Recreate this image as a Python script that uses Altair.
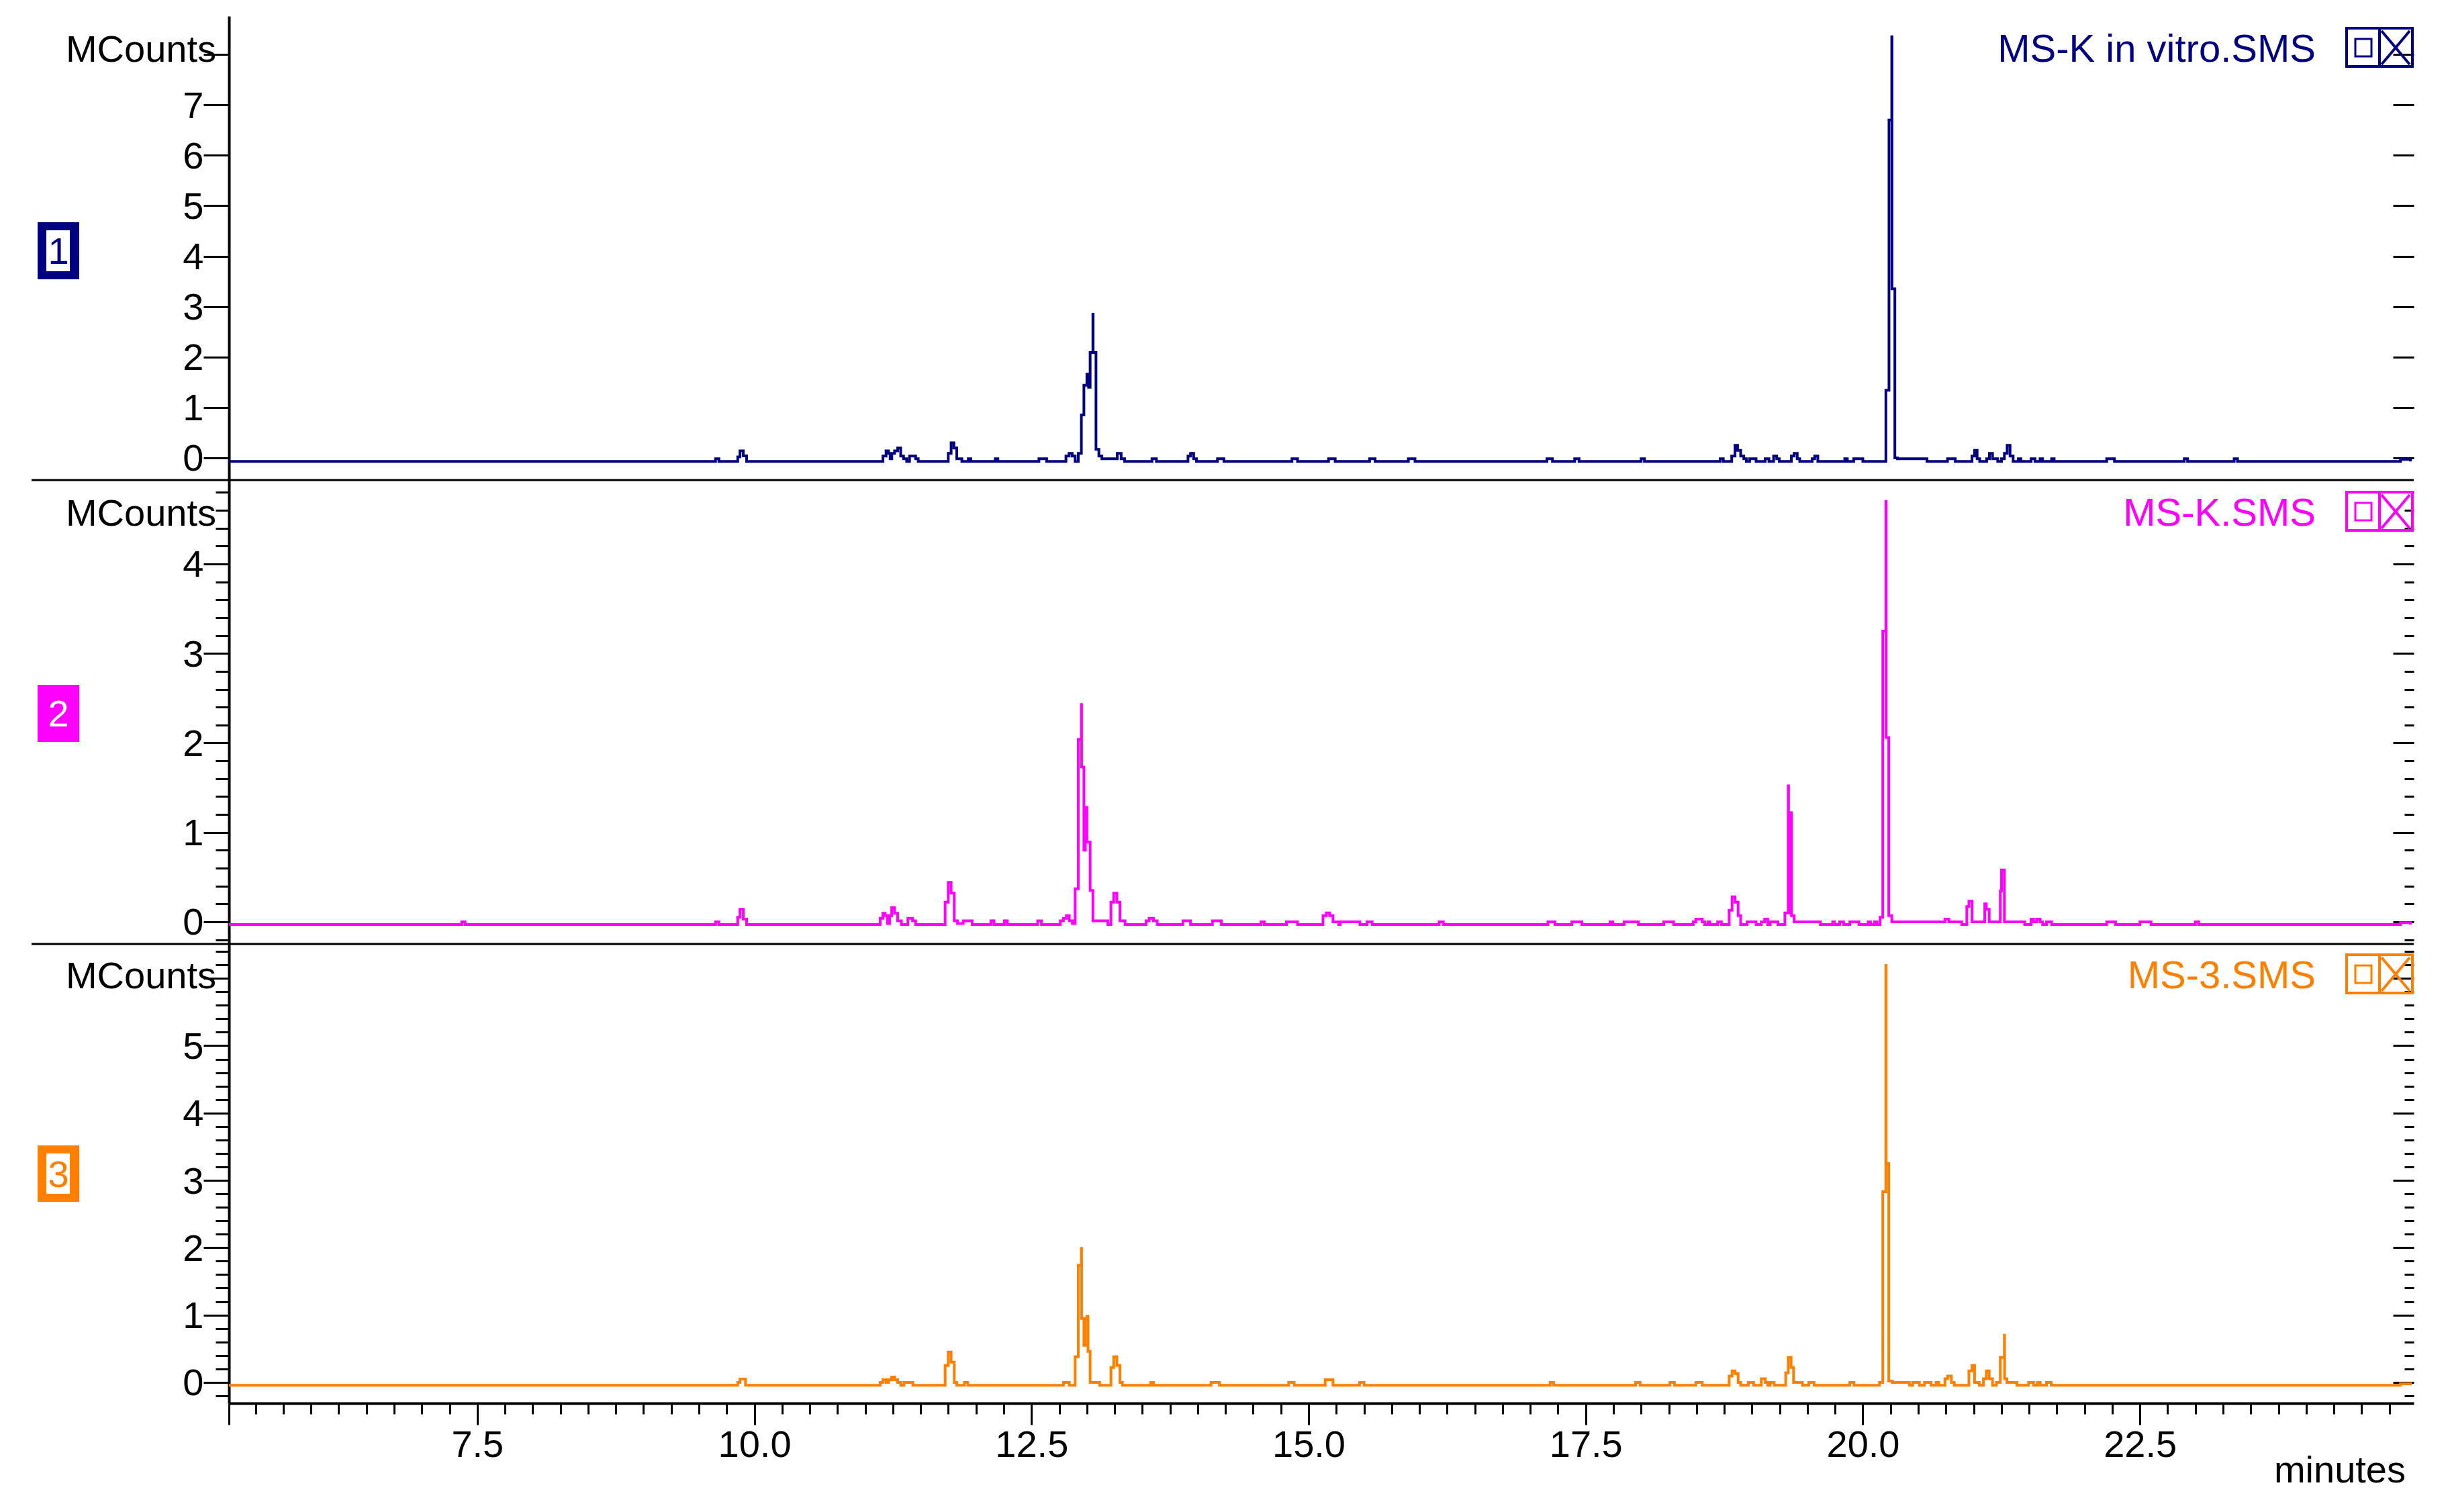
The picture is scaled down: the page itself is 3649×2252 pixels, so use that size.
import altair as alt
import pandas as pd

FONT = "Liberation Sans"
NAVY, MAGENTA, ORANGE = "#000080", "#FF00FF", "#FF8000"
PW, PH = 3254, 2066
X_DOMAIN = [5.26, 24.97]

x_major = [7.5, 10.0, 12.5, 15.0, 17.5, 20.0, 22.5]
x_corner = [5.26]
x_minor = [5.5, 5.75, 6.0, 6.25, 6.5, 6.75, 7.0, 7.25, 7.75, 8.0, 8.25, 8.5, 8.75, 9.0, 9.25, 9.5, 9.75,
           10.25, 10.5, 10.75, 11.0, 11.25, 11.5, 11.75, 12.0, 12.25, 12.75, 13.0, 13.25, 13.5, 13.75,
           14.0, 14.25, 14.5, 14.75, 15.25, 15.5, 15.75, 16.0, 16.25, 16.5, 16.75, 17.0, 17.25, 17.75,
           18.0, 18.25, 18.5, 18.75, 19.0, 19.25, 19.5, 19.75, 20.25, 20.5, 20.75, 21.0, 21.25, 21.5,
           21.75, 22.0, 22.25, 22.75, 23.0, 23.25, 23.5, 23.75, 24.0, 24.25, 24.5, 24.75]

b1, a1 = -0.07, -0.017
trace_1 = [(5.26, b1), (9.65, a1), (9.68, b1), (9.85, 0.02), (9.87, 0.14), (9.9, 0.04), (9.93, b1),
    (11.16, 0.036), (11.188, 0.14), (11.21, 0.09), (11.225, a1), (11.24, 0.09), (11.265, 0.14), (11.293, 0.196),
    (11.32, 0.036), (11.346, a1), (11.374, b1), (11.4, 0.036), (11.455, a1), (11.478, b1),
    (11.749, 0.09), (11.775, 0.3), (11.8, 0.196), (11.826, a1), (11.872, b1), (11.93, a1), (11.953, b1),
    (12.173, a1), (12.197, b1), (12.567, a1), (12.637, b1), (12.811, 0.036), (12.839, 0.09), (12.867, 0.036), (12.894, b1),
    (12.922, 0.09), (12.95, 0.85), (12.973, 1.44), (13.0, 1.66), (13.015, 1.4), (13.029, 2.09), (13.054, 2.85), (13.056, 2.09),
    (13.082, 0.17), (13.108, 0.036), (13.135, a1), (13.274, 0.09), (13.309, a1), (13.34, b1),
    (13.587, a1), (13.627, b1), (13.912, 0.036), (13.935, 0.09), (13.963, a1), (13.988, b1), (14.178, a1), (14.236, b1),
    (14.85, a1), (14.9, b1), (15.18, a1), (15.24, b1), (15.55, a1), (15.6, b1), (15.9, a1), (15.96, b1),
    (17.15, a1), (17.2, b1), (17.4, a1), (17.44, b1), (18.0, a1), (18.03, b1),
    (18.713, a1), (18.741, b1), (18.817, 0.035), (18.847, 0.25), (18.87, 0.15), (18.898, 0.035), (18.926, a1), (18.949, b1),
    (18.979, a1), (19.037, b1), (19.119, a1), (19.153, b1), (19.195, 0.035), (19.223, a1), (19.246, b1),
    (19.355, 0.035), (19.38, 0.09), (19.408, a1), (19.431, b1), (19.543, a1), (19.566, 0.035), (19.594, b1),
    (19.837, a1), (19.86, b1), (19.918, a1), (20.0, b1), (20.208, 1.34), (20.236, 6.7), (20.261, 8.35), (20.263, 3.35),
    (20.289, 0.0), (20.312, a1), (20.579, b1), (20.764, a1), (20.834, b1), (20.985, 0.035), (21.008, 0.15), (21.031, a1), (21.054, b1),
    (21.117, a1), (21.142, 0.09), (21.17, a1), (21.217, b1), (21.251, a1), (21.277, 0.09), (21.302, 0.25), (21.328, 0.035), (21.356, b1),
    (21.402, a1), (21.425, b1), (21.518, a1), (21.553, b1), (21.599, a1), (21.622, b1), (21.703, a1), (21.726, b1),
    (22.2, a1), (22.27, b1), (22.9, a1), (22.93, b1), (23.35, a1), (23.38, b1), (24.85, -0.03), (24.94, b1)]

b2, a2 = -0.03, 0.0
trace_2 = [(5.26, b2), (7.36, a2), (7.39, b2), (9.65, a2), (9.68, b2), (9.85, 0.05), (9.87, 0.14), (9.9, 0.03), (9.93, b2),
    (11.135, 0.04), (11.16, 0.096), (11.18, 0.07), (11.2, -0.02), (11.22, 0.07), (11.239, 0.16), (11.265, 0.096), (11.293, 0.01), (11.327, b2),
    (11.385, 0.04), (11.427, 0.01), (11.455, b2), (11.721, 0.22), (11.749, 0.44), (11.775, 0.32), (11.803, 0.01), (11.833, -0.02),
    (11.884, 0.01), (11.965, b2), (12.134, 0.01), (12.162, b2), (12.255, 0.01), (12.282, b2), (12.556, 0.01), (12.59, b2),
    (12.76, 0.01), (12.788, 0.04), (12.815, 0.07), (12.841, 0.01), (12.869, -0.02), (12.894, 0.37), (12.922, 2.04), (12.95, 2.43), (12.952, 1.73),
    (12.973, 0.8), (12.986, 1.28), (13.0, 0.89), (13.029, 0.35), (13.054, 0.01), (13.189, b2), (13.217, 0.22), (13.242, 0.32),
    (13.27, 0.22), (13.298, 0.01), (13.344, b2), (13.534, 0.01), (13.562, 0.04), (13.6, 0.01), (13.634, b2), (13.866, 0.01), (13.935, b2),
    (14.132, 0.01), (14.213, b2), (14.571, a2), (14.6, b2), (14.8, a2), (14.9, b2), (15.13, 0.07), (15.16, 0.1), (15.19, 0.07), (15.22, a2), (15.272, b2),
    (15.285, a2), (15.463, b2), (15.527, a2), (15.573, b2), (16.177, a2), (16.215, b2), (17.159, a2), (17.222, b2), (17.375, a2), (17.465, b2),
    (17.72, a2), (17.745, b2), (17.847, a2), (17.975, b2), (18.204, a2), (18.293, b2), (18.47, a2), (18.493, 0.03), (18.551, a2), (18.574, b2),
    (18.604, a2), (18.62, b2), (18.69, a2), (18.724, b2), (18.794, 0.13), (18.82, 0.28), (18.847, 0.22), (18.875, 0.07), (18.898, b2),
    (18.956, a2), (19.037, b2), (19.084, a2), (19.114, 0.03), (19.142, b2), (19.165, a2), (19.234, b2), (19.297, 0.1), (19.327, 1.52), (19.33, 0.1),
    (19.353, 1.22), (19.356, 0.07), (19.38, a2), (19.617, b2), (19.728, a2), (19.744, b2), (19.791, a2), (19.826, b2), (19.883, a2), (19.965, b2),
    (20.048, a2), (20.069, b2), (20.104, a2), (20.127, b2), (20.155, 0.05), (20.18, 3.25), (20.208, 4.7), (20.21, 2.06), (20.234, 0.07), (20.261, a2),
    (20.741, 0.03), (20.776, a2), (20.892, b2), (20.938, 0.17), (20.957, 0.23), (20.985, a2), (21.1, 0.2), (21.114, 0.14), (21.14, a2),
    (21.24, 0.345), (21.251, 0.58), (21.277, a2), (21.46, b2), (21.518, 0.03), (21.54, a2), (21.569, 0.03), (21.599, a2), (21.622, b2),
    (21.657, a2), (21.703, b2), (22.2, a2), (22.28, b2), (22.5, a2), (22.6, b2), (23.0, a2), (23.03, b2), (24.85, -0.01), (24.94, b2)]

b3, a3 = -0.043, 0.0
trace_3 = [(5.26, b3), (9.85, 0.0), (9.87, 0.05), (9.92, b3), (11.135, a3), (11.16, 0.04), (11.188, a3), (11.21, 0.04), (11.239, 0.08), (11.265, 0.04),
    (11.293, a3), (11.32, b3), (11.35, a3), (11.43, b3), (11.721, 0.25), (11.749, 0.45), (11.775, 0.3), (11.803, a3), (11.826, b3), (11.895, a3), (11.925, b3),
    (12.788, a3), (12.841, b3), (12.894, 0.38), (12.922, 1.74), (12.95, 1.99), (12.952, 0.95), (12.973, 0.55), (12.985, 0.95), (13.0, 0.98), (13.01, 0.46),
    (13.029, 0.0), (13.115, b3), (13.217, 0.22), (13.242, 0.38), (13.27, 0.25), (13.298, a3), (13.32, b3), (13.575, a3), (13.6, b3), (14.12, a3), (14.195, b3),
    (14.82, a3), (14.87, b3), (15.15, 0.04), (15.22, b3), (15.46, a3), (15.5, b3), (17.18, a3), (17.21, b3), (17.95, a3), (17.99, b3), (18.26, a3), (18.3, b3),
    (18.493, a3), (18.551, b3), (18.794, 0.095), (18.82, 0.17), (18.847, 0.13), (18.875, a3), (18.898, b3), (18.967, a3), (19.015, b3), (19.084, 0.055),
    (19.12, a3), (19.142, b3), (19.165, a3), (19.2, b3), (19.304, 0.14), (19.327, 0.37), (19.353, 0.22), (19.375, a3), (19.455, b3), (19.513, a3), (19.56, b3),
    (19.883, a3), (19.92, b3), (20.15, a3), (20.18, 2.83), (20.208, 6.19), (20.21, 3.25), (20.234, 0.02), (20.267, a3), (20.42, b3), (20.45, a3), (20.51, b3),
    (20.556, a3), (20.615, b3), (20.66, a3), (20.685, b3), (20.741, 0.055), (20.765, 0.095), (20.799, a3), (20.825, b3), (20.957, 0.17), (20.985, 0.25), (21.008, a3),
    (21.05, b3), (21.088, 0.055), (21.114, 0.17), (21.14, 0.055), (21.17, b3), (21.205, a3), (21.24, 0.37), (21.277, 0.7), (21.279, 0.055), (21.3, a3), (21.39, b3),
    (21.495, a3), (21.54, b3), (21.575, a3), (21.6, b3), (21.657, a3), (21.7, b3), (24.85, -0.02), (24.94, b3)]

panels = [
    dict(trace=trace_1, color=NAVY, name="MS-K in vitro.SMS", badge="1", badge_fill="white", badge_text=NAVY,
         domain=[-0.44, 8.76], range=[691, 0], major=[0, 1, 2, 3, 4, 5, 6, 7, 8], hide=8, minor=[],
         text_y=68, icon_top=16, badge_top=307, badge_h=85, has_inner=True),
    dict(trace=trace_2, color=MAGENTA, name="MS-K.SMS", badge="2", badge_fill=MAGENTA, badge_text="white",
         domain=[-0.248, 4.938], range=[1382, 691], major=[0, 1, 2, 3, 4], hide=9,
         minor=[-0.2, 0.2, 0.4, 0.6, 0.8, 1.2, 1.4, 1.6, 1.8, 2.2, 2.4, 2.6, 2.8, 3.2, 3.4, 3.6, 3.8, 4.2, 4.4, 4.6, 4.8],
         text_y=759, icon_top=707, badge_top=996, badge_h=85, has_inner=False),
    dict(trace=trace_3, color=ORANGE, name="MS-3.SMS", badge="3", badge_fill="white", badge_text=ORANGE,
         domain=[-0.31, 6.51], range=[2066, 1382], major=[0, 1, 2, 3, 4, 5, 6], hide=6,
         minor=[-0.2, 0.2, 0.4, 0.6, 0.8, 1.2, 1.4, 1.6, 1.8, 2.2, 2.4, 2.6, 2.8, 3.2, 3.4, 3.6, 3.8, 4.2, 4.4, 4.6, 4.8,
                5.2, 5.4, 5.6, 5.8, 6.2, 6.4],
         text_y=1448, icon_top=1396, badge_top=1682, badge_h=84, has_inner=True),
]

xscale = alt.Scale(domain=X_DOMAIN, nice=False, zero=False)
one = alt.Data(values=[{"a": 1}])
layers = []


def y_axis_layer(values, scale, **axis_kw):
    df = pd.DataFrame({"v": values})
    return alt.Chart(df).mark_point(opacity=0).encode(
        y=alt.Y("v:Q", scale=scale, axis=alt.Axis(values=values, title=None, grid=False, tickColor="black",
                                                  **axis_kw)))


for p in panels:
    yscale = alt.Scale(domain=p["domain"], range=p["range"], nice=False, zero=False)
    hide = p["hide"]
    layers.append(y_axis_layer(p["major"], yscale, orient="left", tickSize=38, tickWidth=3, domain=True,
                               domainColor="black", domainWidth=4, labelFont=FONT, labelFontSize=56,
                               labelColor="black", labelPadding=0, labelOverlap=False, format="d", labelOffset=2,
                               labelExpr=f"datum.value == {hide} ? '' : datum.label"))
    layers.append(y_axis_layer(p["major"], yscale, orient="left", offset=-PW, tickSize=31, tickWidth=3,
                               domain=False, labels=False))
    if p["minor"]:
        layers.append(y_axis_layer(p["minor"], yscale, orient="left", tickSize=20, tickWidth=3, domain=False,
                                   labels=False))
        layers.append(y_axis_layer(p["minor"], yscale, orient="left", offset=-PW, tickSize=14, tickWidth=3,
                                   domain=False, labels=False))
    df = pd.DataFrame(p["trace"], columns=["t", "v"])
    layers.append(alt.Chart(df).mark_line(interpolate="step-after", strokeWidth=4, color=p["color"],
                                          strokeCap="butt", strokeJoin="miter").encode(
        x=alt.X("t:Q", scale=xscale, axis=None),
        y=alt.Y("v:Q", scale=yscale, axis=None)))

    # header text
    layers.append(alt.Chart(one).mark_text(text="MCounts", font=FONT, fontSize=56, align="right",
                                           baseline="alphabetic", color="black").encode(
        x=alt.value(-19), y=alt.value(p["text_y"])))
    layers.append(alt.Chart(one).mark_text(text=p["name"], font=FONT, fontSize=58, align="right",
                                           baseline="alphabetic", color=p["color"]).encode(
        x=alt.value(3108), y=alt.value(p["text_y"])))

    # badge
    bt, bh = p["badge_top"], p["badge_h"]
    layers.append(alt.Chart(one).mark_rect(fill=p["color"]).encode(
        x=alt.value(-285), x2=alt.value(-223), y=alt.value(bt), y2=alt.value(bt + bh)))
    if p["has_inner"]:
        layers.append(alt.Chart(one).mark_rect(fill=p["badge_fill"]).encode(
            x=alt.value(-272), x2=alt.value(-237), y=alt.value(bt + 12), y2=alt.value(bt + bh - 12)))
    layers.append(alt.Chart(one).mark_text(text=p["badge"], font=FONT, fontSize=56, align="center",
                                           baseline="alphabetic", color=p["badge_text"]).encode(
        x=alt.value(-254), y=alt.value(bt + 62)))

    # icons
    it = p["icon_top"]
    c = p["color"]
    layers.append(alt.Chart(one).mark_rect(fillOpacity=0, stroke=c, strokeWidth=4).encode(
        x=alt.value(3154), x2=alt.value(3252), y=alt.value(it + 2), y2=alt.value(it + 59)))
    layers.append(alt.Chart(one).mark_rect(fillOpacity=0, stroke=c, strokeWidth=3).encode(
        x=alt.value(3167), x2=alt.value(3191), y=alt.value(it + 18), y2=alt.value(it + 44)))
    layers.append(alt.Chart(one).mark_rect(fillOpacity=0, stroke=c, strokeWidth=4).encode(
        x=alt.value(3203), x2=alt.value(3252), y=alt.value(it + 2), y2=alt.value(it + 59)))
    layers.append(alt.Chart(one).mark_rule(color=c, strokeWidth=4).encode(
        x=alt.value(3206), x2=alt.value(3248), y=alt.value(it + 6), y2=alt.value(it + 56)))
    layers.append(alt.Chart(one).mark_rule(color=c, strokeWidth=4).encode(
        x=alt.value(3248), x2=alt.value(3206), y=alt.value(it + 6), y2=alt.value(it + 56)))

# panel separators
for sep_y in [691, 1382]:
    layers.append(alt.Chart(one).mark_rule(color="black", strokeWidth=3).encode(
        x=alt.value(-294), x2=alt.value(PW), y=alt.value(sep_y)))

# x axes
layers.append(alt.Chart(pd.DataFrame({"t": x_major})).mark_point(opacity=0).encode(
    x=alt.X("t:Q", scale=xscale, axis=alt.Axis(orient="bottom", values=x_major, title=None, grid=False, format=".1f",
                                               tickSize=32, tickWidth=3, tickColor="black", domain=True,
                                               domainColor="black", domainWidth=4, labelFont=FONT, labelFontSize=56,
                                               labelColor="black", labelPadding=3, labelOverlap=False,
                                               labelFlush=False))))
layers.append(alt.Chart(pd.DataFrame({"t": x_corner})).mark_point(opacity=0).encode(
    x=alt.X("t:Q", scale=xscale, axis=alt.Axis(orient="bottom", values=x_corner, title=None, grid=False,
                                               tickSize=32, tickWidth=3, tickColor="black", domain=False,
                                               labels=False))))
layers.append(alt.Chart(pd.DataFrame({"t": x_minor})).mark_point(opacity=0).encode(
    x=alt.X("t:Q", scale=xscale, axis=alt.Axis(orient="bottom", values=x_minor, title=None, grid=False,
                                               tickSize=16, tickWidth=3, tickColor="black", domain=False,
                                               labels=False))))
layers.append(alt.Chart(one).mark_text(text="minutes", font=FONT, fontSize=56, align="right",
                                       baseline="alphabetic", color="black").encode(
    x=alt.value(3242), y=alt.value(2184)))

chart = alt.layer(*layers).resolve_scale(y="independent").resolve_axis(x="independent", y="independent").properties(
    width=PW, height=PH,
    autosize=alt.AutoSizeParams(type="none"),
    padding={"left": 333, "top": 16, "right": 40, "bottom": 140},
    background="white",
).configure_view(stroke=None)

chart.save("out.html", embed_options={"renderer": "svg", "actions": False})
